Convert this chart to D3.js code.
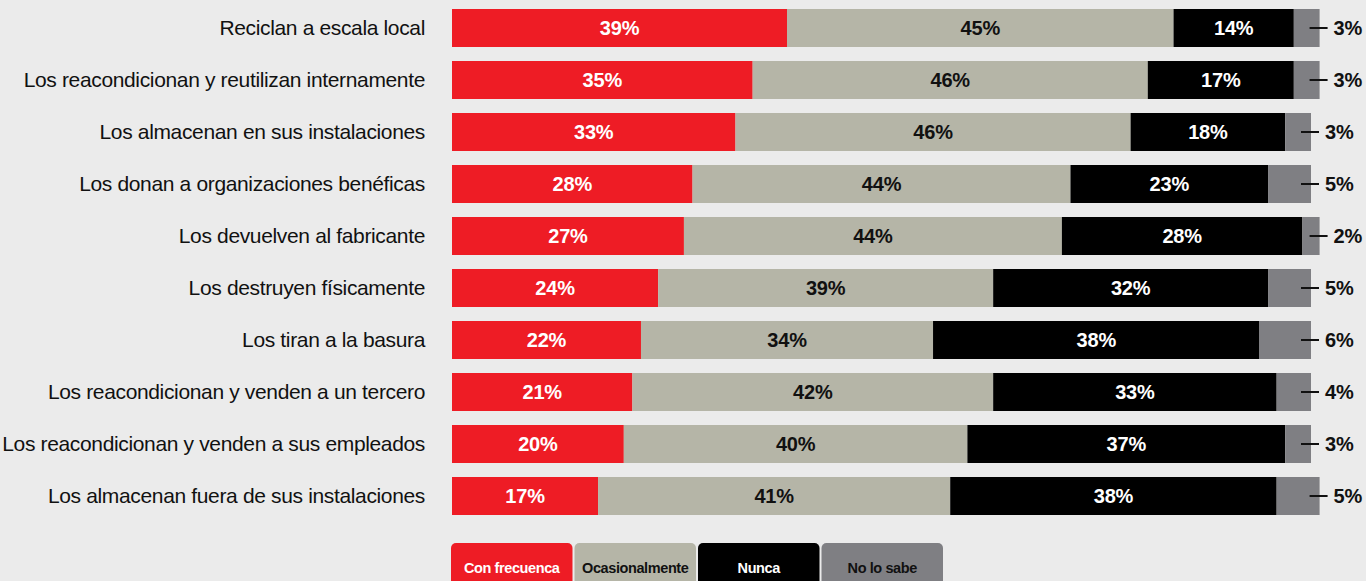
<!DOCTYPE html>
<html>
<head>
<meta charset="utf-8">
<script src="https://cdn.jsdelivr.net/npm/d3@7"></script>
<style>
  html, body { margin: 0; padding: 0; background: #ebebeb; }
  svg { display: block; font-family: "Liberation Sans", Arial, sans-serif; }
</style>
</head>
<body>
<svg id="chart" width="1366" height="581"></svg>
<script>
// values
const categories = [
  "Reciclan a escala local",
  "Los reacondicionan y reutilizan internamente",
  "Los almacenan en sus instalaciones",
  "Los donan a organizaciones benéficas",
  "Los devuelven al fabricante",
  "Los destruyen físicamente",
  "Los tiran a la basura",
  "Los reacondicionan y venden a un tercero",
  "Los reacondicionan y venden a sus empleados",
  "Los almacenan fuera de sus instalaciones"
];
const conFrecuencia = [39, 35, 33, 28, 27, 24, 22, 21, 20, 17];
const ocasionalmente = [45, 46, 46, 44, 44, 39, 34, 42, 40, 41];
const nunca = [14, 17, 18, 23, 28, 32, 38, 33, 37, 38];
const noLoSabe = [3, 3, 3, 5, 2, 5, 6, 4, 3, 5];

const seriesNames = ["Con frecuenca", "Ocasionalmente", "Nunca", "No lo sabe"];
const seriesColors = ["#ee1c25", "#b5b5a7", "#000000", "#7f7f83"];
const seriesText = ["#ffffff", "#111111", "#ffffff", "#111111"];

const svg = d3.select("#chart");

const x = d3.scaleLinear().domain([0, 100]).range([452, 1311]);
const y = d3.scaleBand()
  .domain(categories)
  .range([2, 522])
  .paddingInner(14 / 52)
  .paddingOuter(7 / 52);

const rows = categories.map((c, i) => ({
  cat: c,
  vals: [conFrecuencia[i], ocasionalmente[i], nunca[i], noLoSabe[i]]
}));

const stack = d3.stack().keys([0, 1, 2, 3]).value((d, k) => d.vals[k]);
const stacked = stack(rows);

// category labels
svg.append("g")
  .selectAll("text")
  .data(categories)
  .enter().append("text")
    .attr("x", 425)
    .attr("y", d => y(d) + y.bandwidth() / 2 + 7)
    .attr("text-anchor", "end")
    .style("font-size", "21px")
    .style("letter-spacing", "-0.35px")
    .style("fill", "#111")
    .text(d => d);

// bars
const layers = svg.append("g")
  .selectAll("g")
  .data(stacked)
  .enter().append("g")
    .attr("fill", d => seriesColors[d.key]);

layers.selectAll("rect")
  .data(d => d)
  .enter().append("rect")
    .attr("x", d => x(d[0]))
    .attr("y", d => y(d.data.cat))
    .attr("width", d => x(d[1]) - x(d[0]))
    .attr("height", y.bandwidth());

// labels inside the first three segments
stacked.slice(0, 3).forEach(layer => {
  svg.append("g")
    .selectAll("text")
    .data(layer)
    .enter().append("text")
      .attr("x", d => (x(d[0]) + x(d[1])) / 2)
      .attr("y", d => y(d.data.cat) + y.bandwidth() / 2 + 7)
      .attr("text-anchor", "middle")
      .style("font-size", "20px")
      .style("font-weight", "bold")
      .style("letter-spacing", "-0.2px")
      .style("fill", seriesText[layer.key])
      .text(d => `${d[1] - d[0]}%`);
});

// "no lo sabe" labels outside the bar with a dash
const last = stacked[3];
const callout = svg.append("g")
  .selectAll("g")
  .data(last)
  .enter().append("g")
    .attr("transform", d => `translate(${x(d[1])},${y(d.data.cat) + y.bandwidth() / 2})`);

callout.append("line")
  .attr("x1", -10)
  .attr("x2", 8)
  .attr("y1", 0)
  .attr("y2", 0)
  .style("stroke", "#111")
  .style("stroke-width", 2);

callout.append("text")
  .attr("x", 14)
  .attr("y", 7)
  .style("font-size", "20px")
  .style("font-weight", "bold")
  .style("letter-spacing", "-0.2px")
  .style("fill", "#111")
  .text(d => `${d[1] - d[0]}%`);

// legend
const lx = d3.scaleBand()
  .domain(seriesNames)
  .range([451, 451 + 4 * 123])
  .paddingInner(2 / 123);

const legend = svg.append("g")
  .selectAll("g")
  .data(seriesNames)
  .enter().append("g")
    .attr("transform", d => `translate(${lx(d)},543)`);

legend.append("rect")
  .attr("width", lx.bandwidth())
  .attr("height", 50)
  .attr("rx", 5)
  .attr("ry", 5)
  .attr("fill", (d, i) => seriesColors[i]);

legend.append("text")
  .attr("x", lx.bandwidth() / 2)
  .attr("y", 30)
  .attr("text-anchor", "middle")
  .style("font-size", "14.5px")
  .style("font-weight", "bold")
  .style("letter-spacing", "-0.4px")
  .style("fill", (d, i) => seriesText[i])
  .text(d => d);
</script>
</body>
</html>
